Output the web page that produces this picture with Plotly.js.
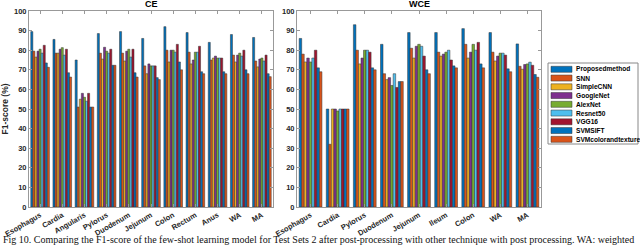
<!DOCTYPE html>
<html><head><meta charset="utf-8">
<script src="https://cdn.plot.ly/plotly-3.0.1.min.js"></script>
<style>html,body{margin:0;padding:0;background:#fff}#chart{width:640px;height:249px}</style>
</head><body><div id="chart"></div>
<script>
// ---------- data ----------
const seriesNames = ['Proposedmethod','SNN','SimpleCNN','GoogleNet','AlexNet','Resnet50','VGG16','SVMSIFT','SVMcolorandtexture'];
const seriesColors = ['#0072BD','#D95319','#EDB120','#7E2F8E','#77AC30','#4DBEEE','#A2142F','#0072BD','#D95319'];

const ceCategories = ['Esophagus','Cardia','Angularis','Pylorus','Duodenum','Jejunum','Colon','Rectum','Anus','WA','MA'];
const ceProposed  = [89.5, 85.5, 75, 88.5, 89.5, 86, 92, 89, 84, 88, 86.5];
const ceSNN       = [79.5, 78.5, 51, 78.5, 78.5, 72, 80, 79, 75, 77.5, 74.5];
const ceSimpleCNN = [76.5, 78.5, 55, 75.5, 74.5, 68, 74, 73, 76, 74, 71.5];
const ceGoogleNet = [79.5, 80.5, 58, 81.5, 79.5, 73, 80, 75, 77, 77.5, 75.5];
const ceAlexNet   = [80.5, 81.3, 56, 79.5, 80.5, 72, 80, 79, 76, 78.5, 76];
const ceResnet50  = [78.5, 77.5, 54, 78.5, 76.5, 72, 79, 79, 76, 77, 74.5];
const ceVGG16     = [82.5, 80.5, 58, 80.5, 80.5, 72, 83, 82, 76, 80, 77.5];
const ceSVMSIFT   = [73.5, 68.5, 51, 72.3, 68.5, 66, 74, 69, 69, 70, 68];
const ceSVMcolor  = [71.3, 66.3, 51, 72.3, 66.3, 65, 70, 68, 68, 68, 66.5];

const wceCategories = ['Esophagus','Cardia','Pylorus','Duodenum','Jejunum','Ileum','Colon','WA','MA'];
const wceProposed  = [86, 50, 93, 83, 89, 89, 91, 89, 83.2];
const wceSNN       = [78, 32, 80, 68, 81, 79, 83, 79, 71.8];
const wceSimpleCNN = [74, 50, 73, 65, 76, 77, 76, 74.5, 70.3];
const wceGoogleNet = [76, 50, 76, 66, 82, 78, 79, 77, 72.7];
const wceAlexNet   = [74, 49, 80, 62, 83, 79, 83, 78.5, 73];
const wceResnet50  = [76, 50, 80, 68, 82, 80, 80, 78.5, 73.9];
const wceVGG16     = [80, 50, 79, 61, 77, 75, 84, 77.5, 72.3];
const wceSVMSIFT   = [71, 50, 71, 64, 70, 72, 73, 70.5, 67.6];
const wceSVMcolor  = [69, 50, 70, 64, 68, 71, 71, 69, 66.2];

const yTicks = [0,10,20,30,40,50,60,70,80,90,100];
const captionText = 'Fig 10. Comparing the F1-score of the few-shot learning model for Test Sets 2 after post-processing with other technique with post processing. WA: weighted';

const ceSeries  = [ceProposed, ceSNN, ceSimpleCNN, ceGoogleNet, ceAlexNet, ceResnet50, ceVGG16, ceSVMSIFT, ceSVMcolor];
const wceSeries = [wceProposed, wceSNN, wceSimpleCNN, wceGoogleNet, wceAlexNet, wceResnet50, wceVGG16, wceSVMSIFT, wceSVMcolor];

// ---------- geometry helpers ----------
const W = 640, H = 249;
const px = x => x / W;
const py = y => 1 - y / H;

const traces = [];
seriesNames.forEach((n, i) => {
  traces.push({type:'bar', name:n, x:ceCategories, y:ceSeries[i], xaxis:'x', yaxis:'y',
    marker:{color:seriesColors[i], line:{color:'#333', width:0.5}}, showlegend:false});
});
seriesNames.forEach((n, i) => {
  traces.push({type:'bar', name:n, x:wceCategories, y:wceSeries[i], xaxis:'x2', yaxis:'y2',
    marker:{color:seriesColors[i], line:{color:'#333', width:0.5}}, showlegend:false});
});

const tickFont = {family:'Liberation Sans, Arial, sans-serif', size:7.5, color:'#262626', weight:'bold'};
const axCommon = {showline:true, mirror:'ticks', linecolor:'#999', linewidth:1, ticks:'inside', ticklen:3,
  tickcolor:'#999', showgrid:false, zeroline:false, tickfont:tickFont, fixedrange:true};

const yDom = [py(207), py(11)];
const layout = {
  width:W, height:H, margin:{l:0,r:0,t:0,b:0}, paper_bgcolor:'#fff', plot_bgcolor:'#fff',
  barmode:'group', bargap:0.16, bargroupgap:0,
  xaxis:Object.assign({}, axCommon, {domain:[px(29), px(273)], anchor:'y', tickangle:-30, range:[-0.5, ceCategories.length-0.5]}),
  yaxis:Object.assign({}, axCommon, {domain:yDom, anchor:'x', range:[0,100], tickvals:yTicks,
    title:{text:'F1-score (%)', font:{family:'Liberation Sans, Arial, sans-serif', size:8.5, color:'#262626', weight:'bold'}, standoff:6}}),
  xaxis2:Object.assign({}, axCommon, {domain:[px(297), px(541)], anchor:'y2', tickangle:-30, range:[-0.5, wceCategories.length-0.5]}),
  yaxis2:Object.assign({}, axCommon, {domain:yDom, anchor:'x2', range:[0,100], tickvals:yTicks}),
  shapes:[], annotations:[]
};

// titles
layout.annotations.push({text:'CE', xref:'paper', yref:'paper', x:px(151), y:py(4), xanchor:'center', yanchor:'middle', showarrow:false,
  font:{family:'Liberation Sans, Arial, sans-serif', size:9, color:'#000', weight:'bold'}});
layout.annotations.push({text:'WCE', xref:'paper', yref:'paper', x:px(419), y:py(4), xanchor:'center', yanchor:'middle', showarrow:false,
  font:{family:'Liberation Sans, Arial, sans-serif', size:9, color:'#000', weight:'bold'}});

// legend (drawn manually to match compact row spacing)
layout.shapes.push({type:'rect', xref:'paper', yref:'paper', x0:px(548), x1:px(638), y0:py(144), y1:py(63),
  line:{color:'#888', width:1}, fillcolor:'#fff'});
seriesNames.forEach((n, i) => {
  const cy = 69.3 + i * 8.75;
  layout.shapes.push({type:'rect', xref:'paper', yref:'paper', x0:px(551), x1:px(572), y0:py(cy+3), y1:py(cy-3),
    line:{color:'#333', width:0.5}, fillcolor:seriesColors[i]});
  layout.annotations.push({text:n, xref:'paper', yref:'paper', x:px(574), y:py(cy), xanchor:'left', yanchor:'middle', showarrow:false,
    font:{family:'Liberation Sans, Arial, sans-serif', size:6.6, color:'#000', weight:'bold'}});
});

// caption
layout.annotations.push({text:captionText, xref:'paper', yref:'paper', x:px(1), y:py(239), xanchor:'left', yanchor:'middle', showarrow:false,
  font:{family:'Liberation Serif, Times New Roman, serif', size:10, color:'#111'}});

Plotly.newPlot('chart', traces, layout, {staticPlot:true, displayModeBar:false});
</script></body></html>
